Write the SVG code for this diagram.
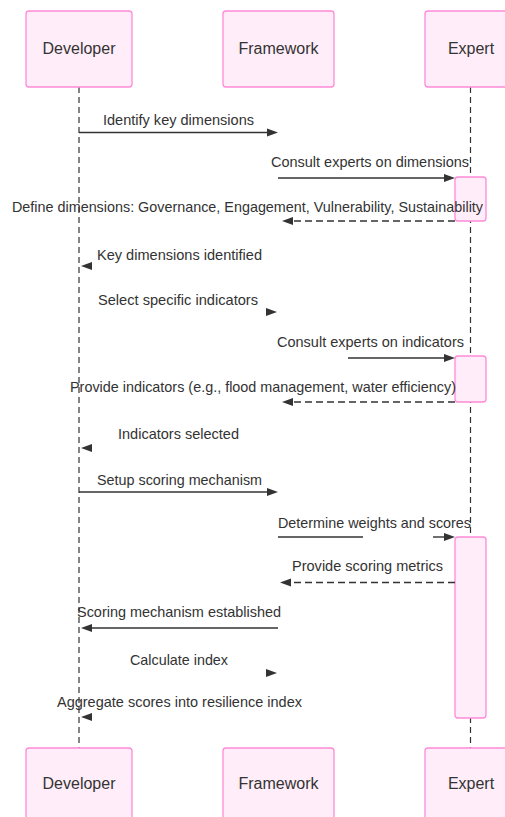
<svg xmlns="http://www.w3.org/2000/svg" width="505" height="817" viewBox="0 0 505 817">
<style>
.actor{fill:#ffeef9;stroke:#ff8ad8;stroke-width:1.3}
.act{fill:#ffeef9;stroke:#ff8ad8;stroke-width:1.3}
.alabel{font-family:"Liberation Sans",Arial,sans-serif;font-size:16px;fill:#333;text-anchor:middle;dominant-baseline:central}
.life{stroke:#333;stroke-width:1.2;stroke-dasharray:6,4;fill:none}
.msg{stroke:#333;stroke-width:1.4;fill:none}
.dash{stroke:#333;stroke-width:1.4;fill:none;stroke-dasharray:7,4}
.mlabel{font-family:"Liberation Sans",Arial,sans-serif;font-size:14.5px;fill:#333;dominant-baseline:central}
.head{fill:#333}
</style>
<defs>
<polygon id="hr" points="-11,-4 0,0 -11,4"/>
<polygon id="hl" points="11,-4 0,0 11,4"/>
</defs>
<g id="lifelines">
<line class="life" x1="79" y1="87" x2="79" y2="748"/>
<line class="life" x1="470.5" y1="87" x2="470.5" y2="748"/>
</g>
<g id="actor-developer-top"><rect class="actor" x="26" y="11" width="106" height="76" rx="3"/><text class="alabel" x="79" y="48">Developer</text></g>
<g id="actor-framework-top"><rect class="actor" x="223" y="11" width="111" height="76" rx="3"/><text class="alabel" x="278.5" y="48">Framework</text></g>
<g id="actor-expert-top"><rect class="actor" x="425" y="11" width="110" height="76" rx="3"/><text class="alabel" x="471" y="48">Expert</text></g>
<g id="activations">
<rect class="act" x="455" y="177" width="31" height="44" rx="3"/>
<rect class="act" x="455" y="356" width="31" height="46" rx="3"/>
<rect class="act" x="455" y="537" width="31" height="181" rx="3"/>
</g>
<g id="messages">
<line class="msg" x1="79" y1="132.5" x2="270" y2="132.5"/>
<use href="#hr" class="head" x="278" y="132.5"/>
<text class="mlabel" x="103" y="120" textLength="151" lengthAdjust="spacingAndGlyphs">Identify key dimensions</text>

<line class="msg" x1="278" y1="178" x2="447" y2="178"/>
<use href="#hr" class="head" x="455" y="178"/>
<text class="mlabel" x="271" y="162" textLength="198" lengthAdjust="spacingAndGlyphs">Consult experts on dimensions</text>

<line class="dash" x1="455" y1="221" x2="290" y2="221"/>
<use href="#hl" class="head" x="282" y="221"/>
<text class="mlabel" x="12" y="207" textLength="471" lengthAdjust="spacingAndGlyphs">Define dimensions: Governance, Engagement, Vulnerability, Sustainability</text>

<use href="#hl" class="head" x="81" y="266"/>
<text class="mlabel" x="97" y="255" textLength="165" lengthAdjust="spacingAndGlyphs">Key dimensions identified</text>

<use href="#hr" class="head" x="277" y="312"/>
<text class="mlabel" x="98" y="300" textLength="160" lengthAdjust="spacingAndGlyphs">Select specific indicators</text>

<line class="msg" x1="348" y1="358" x2="447" y2="358"/>
<use href="#hr" class="head" x="455" y="358"/>
<text class="mlabel" x="277" y="342" textLength="187" lengthAdjust="spacingAndGlyphs">Consult experts on indicators</text>

<line class="dash" x1="455" y1="402" x2="290" y2="402"/>
<use href="#hl" class="head" x="282" y="402"/>
<text class="mlabel" x="70" y="387" textLength="386" lengthAdjust="spacingAndGlyphs">Provide indicators (e.g., flood management, water efficiency)</text>

<use href="#hl" class="head" x="81" y="448"/>
<text class="mlabel" x="118" y="434" textLength="121" lengthAdjust="spacingAndGlyphs">Indicators selected</text>

<line class="msg" x1="79" y1="492" x2="270" y2="492"/>
<use href="#hr" class="head" x="278" y="492"/>
<text class="mlabel" x="97" y="480" textLength="165" lengthAdjust="spacingAndGlyphs">Setup scoring mechanism</text>

<line class="msg" x1="278" y1="537" x2="363" y2="537"/>
<line class="msg" x1="433" y1="537" x2="447" y2="537"/>
<use href="#hr" class="head" x="455" y="537"/>
<text class="mlabel" x="278" y="523" textLength="193" lengthAdjust="spacingAndGlyphs">Determine weights and scores</text>

<line class="dash" x1="455" y1="582.5" x2="288" y2="582.5"/>
<use href="#hl" class="head" x="280" y="582.5"/>
<text class="mlabel" x="292" y="566" textLength="151" lengthAdjust="spacingAndGlyphs">Provide scoring metrics</text>

<line class="msg" x1="278" y1="628" x2="89" y2="628"/>
<use href="#hl" class="head" x="81" y="628"/>
<text class="mlabel" x="77" y="612" textLength="204" lengthAdjust="spacingAndGlyphs">Scoring mechanism established</text>

<use href="#hr" class="head" x="277" y="673"/>
<text class="mlabel" x="130" y="660" textLength="98" lengthAdjust="spacingAndGlyphs">Calculate index</text>

<use href="#hl" class="head" x="81" y="717"/>
<text class="mlabel" x="57" y="702" textLength="245" lengthAdjust="spacingAndGlyphs">Aggregate scores into resilience index</text>
</g>
<g id="actor-developer-bottom"><rect class="actor" x="26" y="748" width="106" height="76" rx="3"/><text class="alabel" x="79" y="783">Developer</text></g>
<g id="actor-framework-bottom"><rect class="actor" x="223" y="748" width="111" height="76" rx="3"/><text class="alabel" x="278.5" y="783">Framework</text></g>
<g id="actor-expert-bottom"><rect class="actor" x="425" y="748" width="110" height="76" rx="3"/><text class="alabel" x="471" y="783">Expert</text></g>
</svg>
